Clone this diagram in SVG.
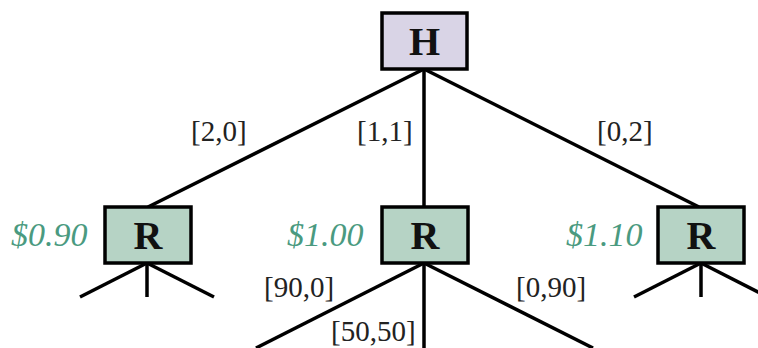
<svg xmlns="http://www.w3.org/2000/svg" width="758" height="348" viewBox="0 0 758 348">
<style>
.box{stroke:#000;stroke-width:3.5}
.h{fill:#d9d4e6}
.r{fill:#b6d3c5}
.nt{font-family:"Liberation Serif","Times New Roman",serif;font-weight:bold;font-size:40px;text-anchor:middle;fill:#111}
.lbl{font-family:"Liberation Serif","Times New Roman",serif;font-size:29px;fill:#222}
.val{font-family:"Liberation Serif","Times New Roman",serif;font-style:italic;font-size:34px;fill:#4a9a80}
.e{stroke:#000;stroke-width:3.5;fill:none}
</style>
<rect width="758" height="348" fill="#fff"/>
<g id="connectors">
<line class="e" x1="424" y1="69" x2="148" y2="207"/>
<line class="e" x1="424" y1="69" x2="424" y2="207"/>
<line class="e" x1="424" y1="69" x2="699" y2="207"/>
<line class="e" x1="147" y1="263" x2="80" y2="297"/>
<line class="e" x1="147" y1="263" x2="147" y2="297"/>
<line class="e" x1="147" y1="263" x2="214" y2="297"/>
<line class="e" x1="424" y1="263" x2="256" y2="348"/>
<line class="e" x1="424" y1="263" x2="424" y2="348"/>
<line class="e" x1="424" y1="263" x2="593" y2="348"/>
<line class="e" x1="701" y1="263" x2="634" y2="297"/>
<line class="e" x1="701" y1="263" x2="701" y2="297"/>
<line class="e" x1="701" y1="263" x2="768" y2="297"/>
<text class="lbl" x="191" y="141">[2,0]</text>
<text class="lbl" x="357" y="141">[1,1]</text>
<text class="lbl" x="597" y="141">[0,2]</text>
<text class="lbl" x="264" y="297">[90,0]</text>
<text class="lbl" x="331" y="341">[50,50]</text>
<text class="lbl" x="516" y="297">[0,90]</text>
</g>
<g id="H">
<rect class="box h" x="382" y="13" width="85" height="56"/>
<text class="nt" x="424.5" y="55">H</text>
</g>
<g id="R1">
<rect class="box r" x="105" y="207" width="86" height="56"/>
<text class="nt" x="148" y="249">R</text>
<text class="val" x="11" y="246">$0.90</text>
</g>
<g id="R2">
<rect class="box r" x="382" y="207" width="86" height="56"/>
<text class="nt" x="425" y="249">R</text>
<text class="val" x="287" y="246">$1.00</text>
</g>
<g id="R3">
<rect class="box r" x="658" y="207" width="86" height="56"/>
<text class="nt" x="701" y="249">R</text>
<text class="val" x="566" y="246">$1.10</text>
</g>
</svg>
